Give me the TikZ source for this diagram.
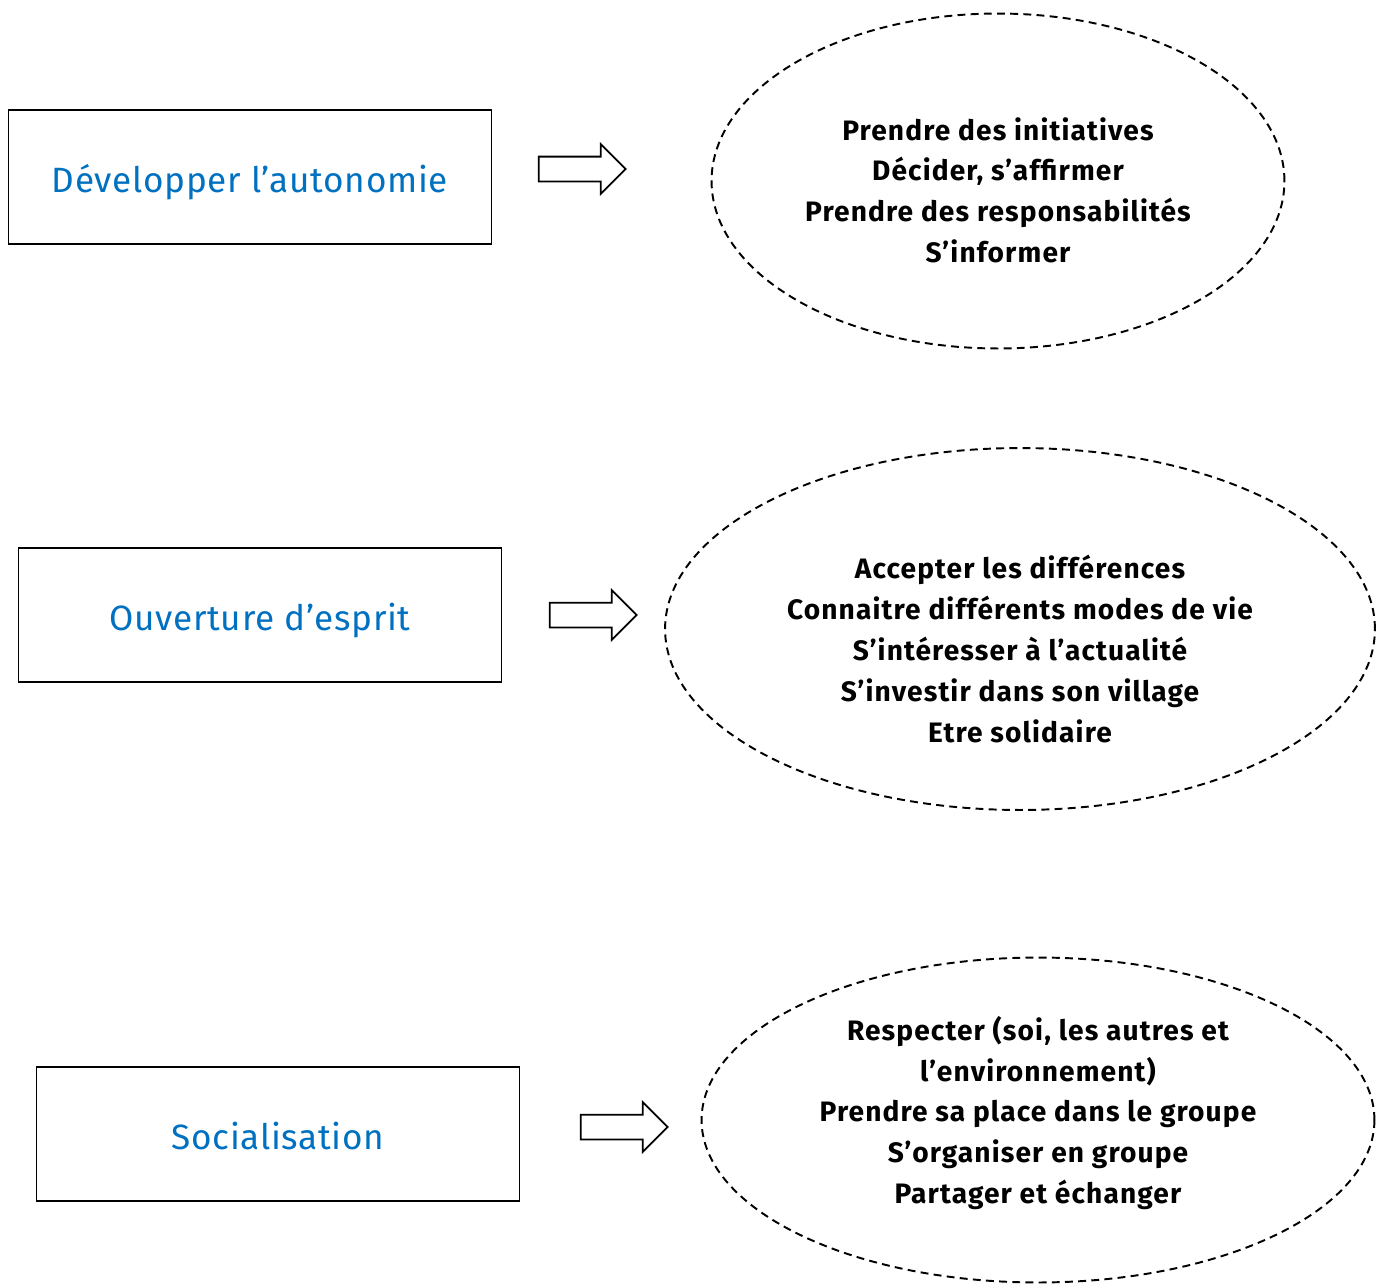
\documentclass[tikz,border=0pt]{standalone}
\usepackage{fontspec}
\setmainfont{Fira Sans}
\usetikzlibrary{shapes.geometric,shapes.arrows}

\definecolor{titleblue}{RGB}{0,112,192}

\tikzset{
  theme/.style={draw,semithick,minimum width=9.68cm,minimum height=2.68cm,
    text height=0.6cm,text depth=0cm,
    text=titleblue,font=\fontsize{20}{24}\selectfont\addfontfeatures{LetterSpace=2}},
  goals/.style={draw,ellipse,dash pattern=on 4.5pt off 3pt,line width=1.1pt,inner sep=0pt,align=center,
    font=\bfseries\fontsize{16}{23.2}\selectfont\addfontfeatures{LetterSpace=4}},
  bigarrow/.style={draw,line width=1pt,fill=white,single arrow,inner sep=0.23cm,
    single arrow head extend=0.25cm,minimum height=1.74cm}
}

\begin{document}
\begin{tikzpicture}[x=0.02cm,y=-0.02cm]
\useasboundingbox (0,0) rectangle (1384,1285);

% themes
\node[theme] (autonomie) at (250,177) {Développer l’autonomie};
\node[theme] (ouverture) at (260,615) {Ouverture d’esprit};
\node[theme] (social) at (278,1134) {Socialisation};

% arrows
\node[bigarrow] (arr1) at (576,169) {};
\node[bigarrow] (arr2) at (587,615) {};
\node[bigarrow] (arr3) at (618,1127) {};

% ellipses
\node[goals,minimum width=11.46cm,minimum height=6.7cm] (buts1) at (998,181) {};
\node[goals,draw=none] (liste1) at (998,190) {Prendre des initiatives\\Décider, s’affirmer\\Prendre des responsabilités\\S’informer};

\node[goals,minimum width=14.2cm,minimum height=7.24cm] (buts2) at (1020,629) {};
\node[goals,draw=none] (liste2) at (1020,649) {Accepter les différences\\Connaitre différents modes de vie\\S’intéresser à l’actualité\\S’investir dans son village\\Etre solidaire};

\node[goals,minimum width=13.46cm,minimum height=6.5cm] (buts3) at (1038,1120) {};
\node[goals,draw=none] (liste3) at (1038,1113) {Respecter (soi, les autres et\\l’environnement)\\Prendre sa place dans le groupe\\S’organiser en groupe\\Partager et échanger};
\end{tikzpicture}
\end{document}
